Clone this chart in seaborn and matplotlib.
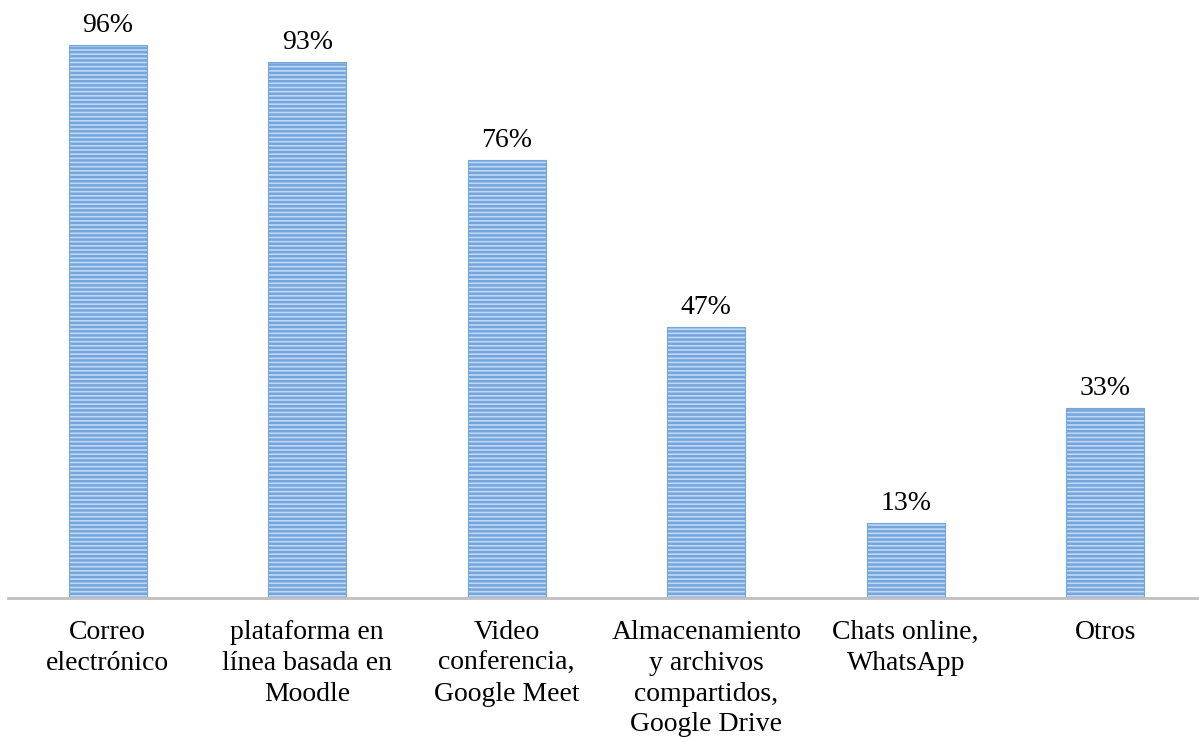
import matplotlib.pyplot as plt
import seaborn as sns
import pandas as pd

# Herramientas usadas y porcentaje de respuestas
categorias = ['Correo\nelectrónico', 'plataforma en\nlínea basada en\nMoodle',
              'Video\nconferencia,\nGoogle Meet',
              'Almacenamiento\ny archivos\ncompartidos,\nGoogle Drive',
              'Chats online,\nWhatsApp', 'Otros']
porcentajes = [96, 93, 76, 47, 13, 33]
etiquetas = ['96%', '93%', '76%', '47%', '13%', '33%']

df = pd.DataFrame({'herramienta': categorias, 'pct': porcentajes})

sns.set_style('white')
plt.rcParams['font.family'] = ['Liberation Serif', 'DejaVu Serif']
plt.rcParams['hatch.linewidth'] = 1.8
plt.rcParams['text.color'] = 'black'

fig = plt.figure(figsize=(11.99, 7.42), dpi=100)
ax = fig.add_axes([8/1199, 1 - 598/742, 1 - 8/1199, 598/742])

sns.barplot(data=df, x='herramienta', y='pct', color='#c0d8f3', width=0.39,
            edgecolor='#74a5dd', linewidth=0.8, ax=ax, saturation=1)
for p in ax.patches:
    p.set_hatch('----')

ax.bar_label(ax.containers[0], labels=etiquetas, padding=5, fontsize=20, color='black')

ax.set_ylim(0, 103.8)
ax.set_xlim(-0.5, 5.47)
ax.set_xlabel('')
ax.set_ylabel('')
ax.set_yticks([])
ax.tick_params(axis='x', length=0, pad=16, labelsize=20, labelcolor='black')
for lbl in ax.get_xticklabels():
    lbl.set_linespacing(1.3)
for s in ['top', 'right', 'left']:
    ax.spines[s].set_visible(False)
ax.spines['bottom'].set_color('#bfbfbf')
ax.spines['bottom'].set_linewidth(2)

fig.savefig('out.png', dpi=100)
